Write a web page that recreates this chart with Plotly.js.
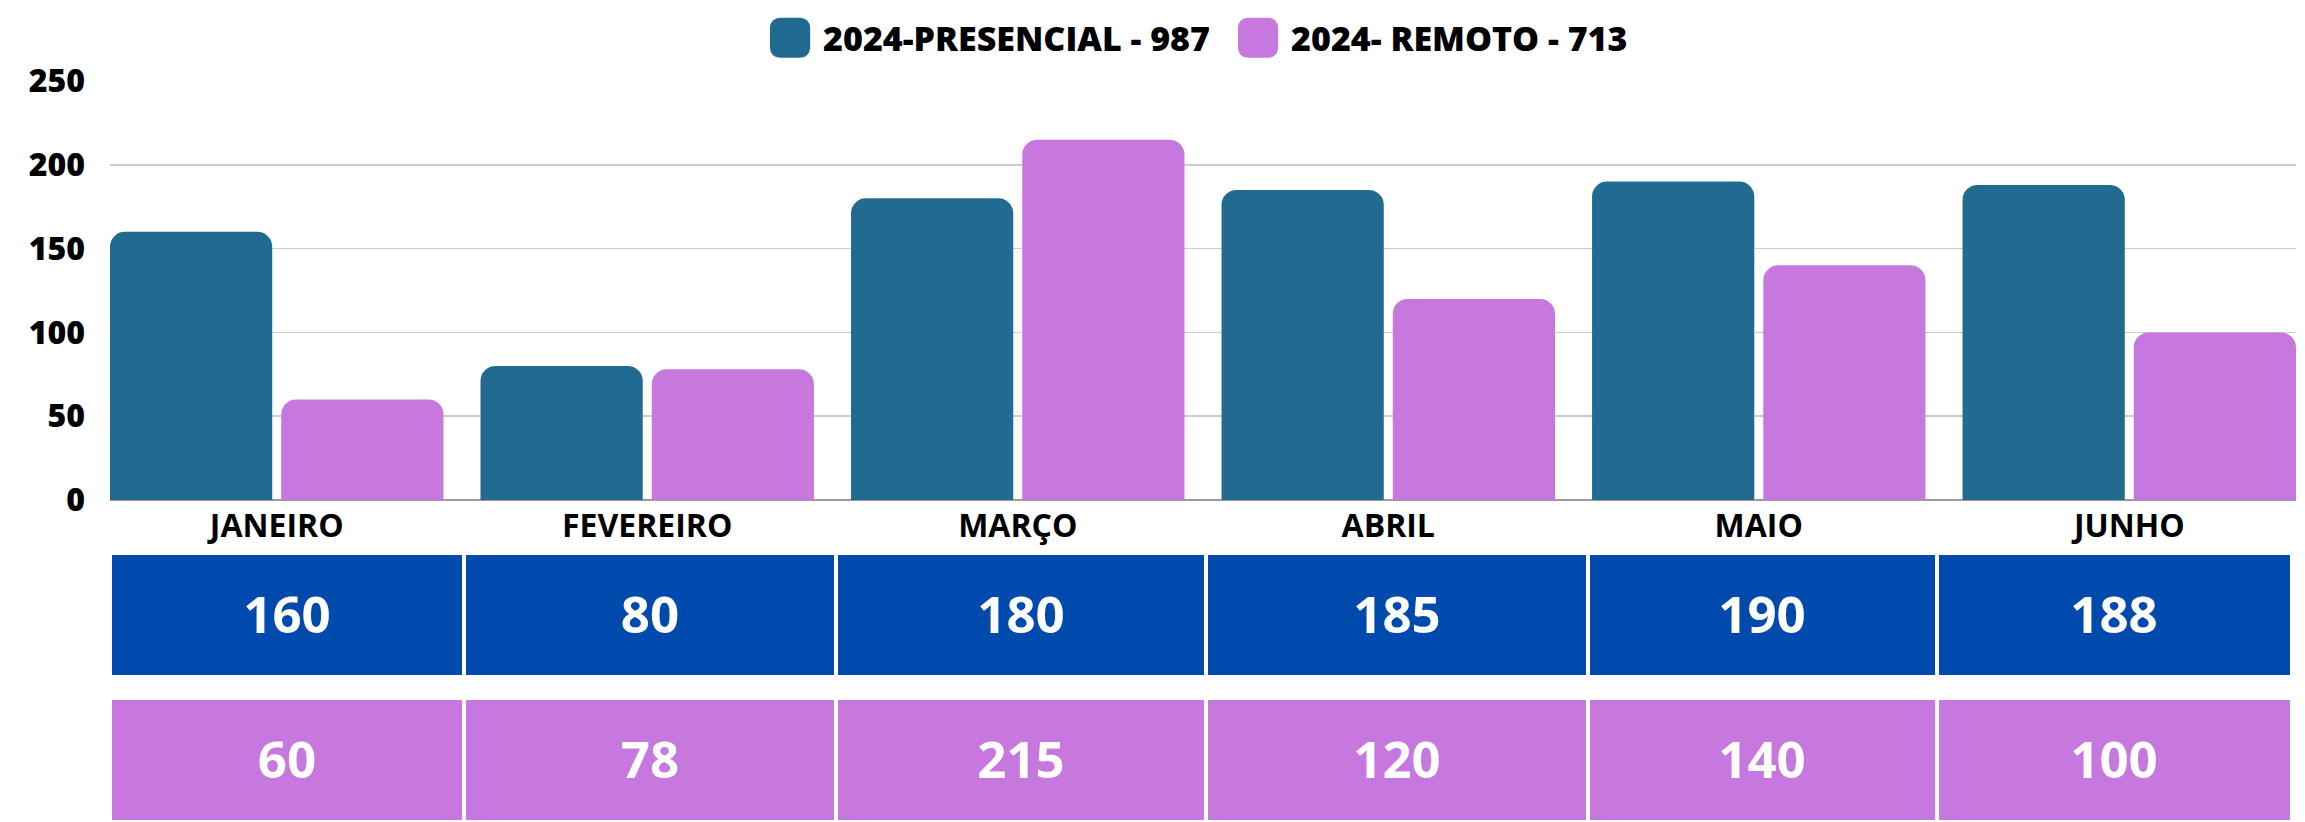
<!DOCTYPE html>
<html>
<head>
<meta charset="utf-8">
<script src="https://cdn.plot.ly/plotly-3.0.1.min.js"></script>
<style>
  html, body { margin: 0; padding: 0; background: #ffffff; }
  #chart { width: 2305px; height: 822px; }
</style>
</head>
<body>
<div id="chart"></div>
<script>
// ---- data ----
const months = ["JANEIRO", "FEVEREIRO", "MARÇO", "ABRIL", "MAIO", "JUNHO"];
const presencial = [160, 80, 180, 185, 190, 188];
const remoto = [60, 78, 215, 120, 140, 100];
const presencialName = "2024-PRESENCIAL - 987";
const remotoName = "2024- REMOTO - 713";
const yTicks = [0, 50, 100, 150, 200, 250];

// ---- styles ----
const barBlue = "#226B90";
const barPurple = "#C778DF";
const tableBlue = "#004AAD";
const tablePurple = "#C778DF";
const FONT = "Open Sans, Noto Sans, DejaVu Sans, sans-serif";
// relative widths of the table columns (style)
const colWidths = [353.5, 372.5, 369.5, 382.5, 348.5, 355.5];

// column edges of the table built from the widths
const colEdges = [0];
colWidths.forEach(function (w, i) { colEdges.push(colEdges[i] + w); });
const tableTotal = colEdges[colEdges.length - 1];

function tableTrace(values, color, yaxis) {
  return {
    type: "heatmap", x: colEdges, y: [0], z: [values],
    colorscale: [[0, color], [1, color]], showscale: false,
    xgap: 4, texttemplate: "%{z}",
    textfont: { family: FONT, size: 51, color: "#ffffff", weight: 700 },
    xaxis: "x2", yaxis: yaxis, hoverinfo: "skip", showlegend: false
  };
}

const traces = [
  {
    type: "bar", name: presencialName, x: months, y: presencial,
    marker: { color: barBlue, cornerradius: 15 },
    xaxis: "x", yaxis: "y", hoverinfo: "skip"
  },
  {
    type: "bar", name: remotoName, x: months, y: remoto,
    marker: { color: barPurple, cornerradius: 15 },
    xaxis: "x", yaxis: "y", hoverinfo: "skip"
  },
  tableTrace(presencial, tableBlue, "y2"),
  tableTrace(remoto, tablePurple, "y3")
];

const layout = {
  width: 2305, height: 822,
  margin: { l: 110, r: 9, t: 81, b: 2 },
  paper_bgcolor: "#ffffff", plot_bgcolor: "#ffffff",
  font: { family: FONT, color: "#000000" },
  barmode: "group", bargap: 0.0757, bargroupgap: 0.0526,
  showlegend: true,
  legend: {
    orientation: "h", x: 0.296, xanchor: "left", y: 1.058, yanchor: "middle",
    font: { family: FONT, size: 34, color: "#000000", weight: 800 },
    itemwidth: 56, entrywidth: 397, bgcolor: "rgba(0,0,0,0)"
  },
  xaxis: {
    domain: [0, 1], anchor: "y", type: "category", range: [-0.45, 5.45],
    showgrid: false, zeroline: false, showline: false, ticks: "",
    tickfont: { family: FONT, size: 32, color: "#000000", weight: 700 },
    ticklabelstandoff: 4
  },
  yaxis: {
    domain: [0.433, 1], anchor: "x", range: [0, 250], tickvals: yTicks,
    showgrid: true, gridcolor: "#cccccc", gridwidth: 1.5,
    zeroline: true, zerolinecolor: "#9a9a9a", zerolinewidth: 1.5,
    showline: false, ticks: "",
    tickfont: { family: FONT, size: 32, color: "#000000", weight: 800 },
    ticklabelstandoff: 24
  },
  xaxis2: {
    domain: [0, 0.9982], anchor: "y2", range: [0, tableTotal],
    showgrid: false, zeroline: false, showline: false, showticklabels: false, ticks: ""
  },
  yaxis2: {
    domain: [0.1962, 0.3586], anchor: "x2", range: [-0.5, 0.5],
    showgrid: false, zeroline: false, showline: false, showticklabels: false, ticks: ""
  },
  yaxis3: {
    domain: [0, 0.1624], anchor: "x2", range: [-0.5, 0.5],
    showgrid: false, zeroline: false, showline: false, showticklabels: false, ticks: ""
  }
};

Plotly.newPlot("chart", traces, layout, { staticPlot: true, displayModeBar: false }).then(function () {
  document.querySelectorAll(".legend .legendpoints path").forEach(function (p) {
    const t = p.getAttribute("transform") || "";
    p.setAttribute("transform", t + " scale(3.35)");
  });
});
</script>
</body>
</html>
